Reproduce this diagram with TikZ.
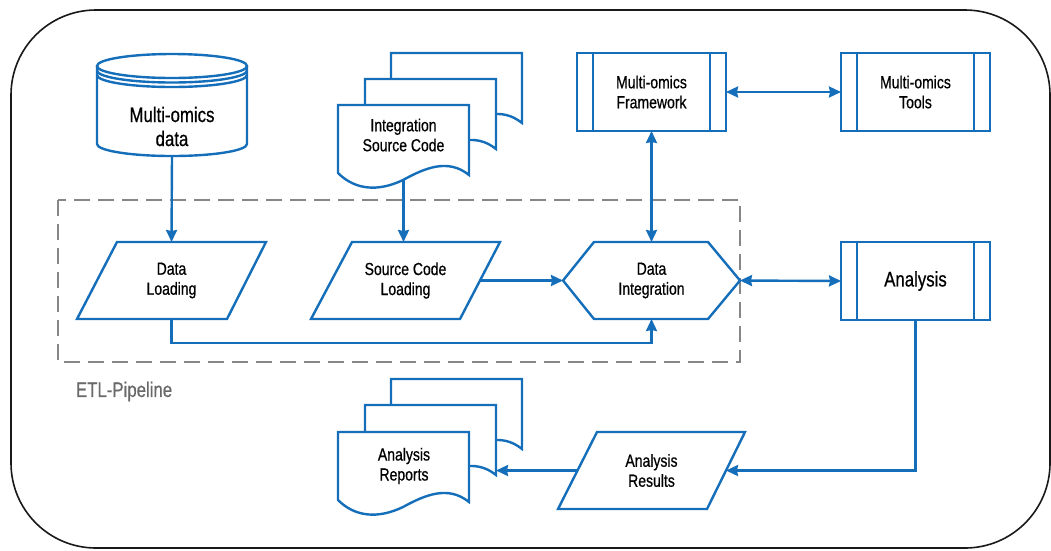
\documentclass[tikz,border=0pt]{standalone}
\usepackage{fontspec}
\setmainfont{Liberation Sans}[FakeStretch=0.8, FakeBold=0.6]
\usetikzlibrary{arrows.meta}
\definecolor{flowblue}{RGB}{20,110,185}
\definecolor{etlgray}{RGB}{135,135,135}
\definecolor{labelgray}{RGB}{105,105,105}

\begin{document}
\begin{tikzpicture}[x=1pt,y=-1pt,
  outline/.style={draw=flowblue, line width=2.4pt, fill=white, line join=miter},
  bare/.style={draw=flowblue, line width=2.4pt},
  frame/.style={inner sep=0pt, outer sep=0pt},
  smalltxt/.style={font=\fontsize{17.5}{20}\selectfont, align=center},
  bigtxt/.style={font=\fontsize{21}{24}\selectfont, align=center},
  tip/.tip={Stealth[length=12pt,width=11pt,inset=1pt]},
  arr/.style={draw=flowblue, line width=2.4pt, -tip},
  biarr/.style={draw=flowblue, line width=2.4pt, tip-tip},
  etl/.style={draw=etlgray, line width=2pt, dash pattern=on 16pt off 8pt},
  docpage/.pic={
    \draw[outline] (0,0) -- (131,0) -- (131,70)
      .. controls (110,53) and (87,63) .. (65,75)
      .. controls (40,87) and (17,85) .. (0,68) -- cycle;
  }
]
\useasboundingbox (0,0) rectangle (1051,550);

% outer frame
\draw[line width=1.6pt, draw=black!90, rounded corners=85pt] (11,10) rectangle (1050,548);

% ETL pipeline group
\draw[etl] (58,200) rectangle (740,362);
\node[frame, font=\fontsize{21}{24}\selectfont, text=labelgray, anchor=west] (etl) at (76,391.5) {ETL-Pipeline};

% database
\node[frame, minimum width=150pt, minimum height=102pt] (db) at (172,105) {};
\draw[outline] (97,66) -- (97,144) arc[start angle=180, end angle=360, x radius=75pt, y radius=12pt] -- (247,66);
\draw[outline] (172,66) ellipse [x radius=75pt, y radius=12pt];
\draw[bare] (97,70.5) arc[start angle=180, end angle=360, x radius=75pt, y radius=12pt];
\draw[bare] (97,75) arc[start angle=180, end angle=360, x radius=75pt, y radius=12pt];
\node[bigtxt] (db-t) at (172,126.5) {Multi-omics\\data};

% integration source code documents
\pic at (391,53) {docpage};
\pic at (365,79) {docpage};
\pic at (338,105) {docpage};
\node[frame, minimum width=131pt, minimum height=75pt] (isc) at (403.5,142.5) {};
\node[smalltxt] (isc-t) at (403.5,135) {Integration\\Source Code};

% analysis report documents
\pic at (391,379) {docpage};
\pic at (365,405) {docpage};
\pic at (338,432) {docpage};
\node[frame, minimum width=131pt, minimum height=77pt] (ard) at (403.5,470.5) {};
\node[smalltxt] (ard-t) at (404,466) {Analysis\\Reports};

% data loading
\node[frame, smalltxt, minimum width=189pt, minimum height=77pt] (dl) at (171.5,280.5) {Data\\Loading};
\draw[bare] (117,242) -- (266,242) -- (227,319) -- (77,319) -- cycle;

% source code loading
\node[frame, smalltxt, minimum width=189pt, minimum height=77pt] (scl) at (405.5,280.5) {Source Code\\Loading};
\draw[bare] (352,242) -- (500,242) -- (460,319) -- (311,319) -- cycle;

% data integration
\node[frame, smalltxt, minimum width=177pt, minimum height=77pt] (di) at (651.5,280.5) {Data\\Integration};
\draw[bare] (563,280.5) -- (594,242) -- (708,242) -- (740,280.5) -- (708,319) -- (594,319) -- cycle;

% framework and tools
\node[frame, smalltxt, minimum width=149pt, minimum height=78pt] (fw) at (651.5,92) {Multi-omics\\Framework};
\draw[bare] (577,53) rectangle (726,131);
\draw[bare] (593,53) -- (593,131);
\draw[bare] (710,53) -- (710,131);

\node[frame, smalltxt, minimum width=149pt, minimum height=78pt] (tl) at (915.5,92) {Multi-omics\\Tools};
\draw[bare] (841,53) rectangle (990,131);
\draw[bare] (857,53) -- (857,131);
\draw[bare] (974,53) -- (974,131);

% analysis
\node[frame, bigtxt, minimum width=149pt, minimum height=78pt] (an) at (915.5,281) {Analysis};
\draw[bare] (841,242) rectangle (990,320);
\draw[bare] (857,242) -- (857,320);
\draw[bare] (974,242) -- (974,320);

% analysis results
\node[frame, smalltxt, minimum width=187pt, minimum height=77pt] (ar) at (651.5,470.5) {Analysis\\Results};
\draw[bare] (597,432) -- (745,432) -- (707,509) -- (558,509) -- cycle;

% connectors
\draw[arr] (db.south) -- (dl.north);
\draw[arr] (isc.south) -- (isc.south |- scl.north);
\draw[arr] ([xshift=-20pt]scl.east) -- (di.west);
\draw[arr] (dl.south) -- ++(0,24) -| (di.south);
\draw[biarr] (fw.south) -- (di.north);
\draw[biarr] (fw.east) -- (tl.west);
\draw[biarr] (di.east) -- (an.west);
\draw[arr] (an.south) |- ([xshift=-19pt]ar.east);
\draw[arr] ([xshift=19pt]ar.west) -- ([xshift=27pt]ard.east);
\end{tikzpicture}
\end{document}
